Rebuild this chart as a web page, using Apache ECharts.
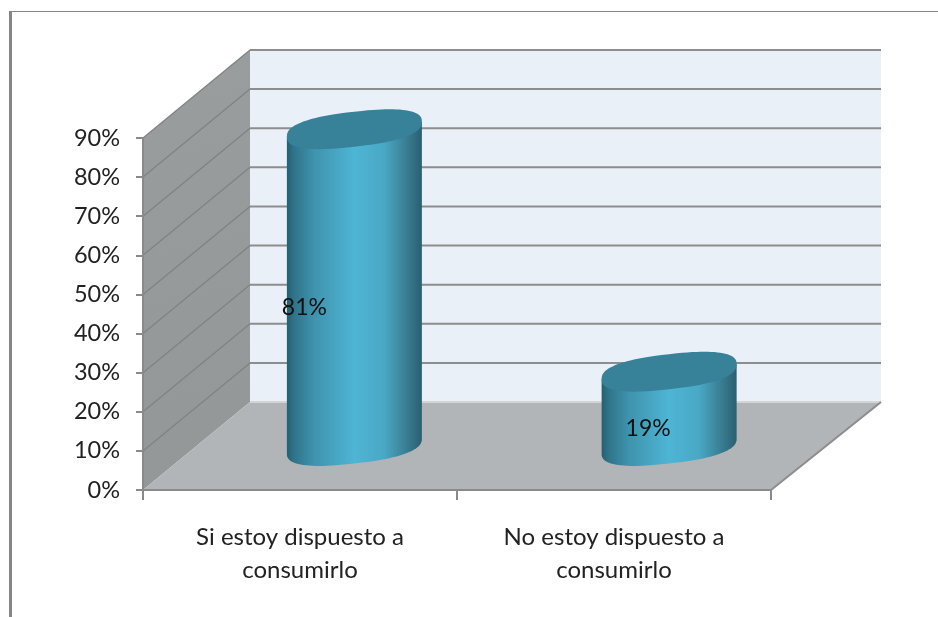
<!DOCTYPE html>
<html><head><meta charset="utf-8">
<style>html,body{margin:0;padding:0;background:#fff}#c{width:938px;height:617px}</style>
<script src="https://cdn.jsdelivr.net/npm/echarts@6/dist/echarts.min.js"></script>
</head><body><div id="c"></div>
<script>
const categories = ['Si estoy dispuesto a\nconsumirlo', 'No estoy dispuesto a\nconsumirlo'];
const values = [81, 19];
const valueLabels = ['81%', '19%'];
const yMin = 0, yMax = 90, yStep = 10;

const DEPTH_X = 107, DEPTH_Y = -88, BACK_EXTRA = 3;
const CYL_A = 67.5, CYL_B = 17.5, CYL_TILT = 7.5, CYL_ROUND = 0.8;
const LABEL_DX = [-50, -21], LABEL_DY = 20;
const FONT = 'Lato, "Noto Sans", sans-serif';
const GRID_C = '#8d8d8d';
const chart = echarts.init(document.getElementById('c'));

function backPt(cs, x, y) {
  return [x + DEPTH_X + BACK_EXTRA * (x - cs.x) / cs.width, y + DEPTH_Y];
}
function renderWalls(params, api) {
  const cs = params.coordSys, L = cs.x, R = cs.x + cs.width;
  const y0 = api.coord([0, yMin])[1], yT = api.coord([0, yMax])[1];
  const bl = backPt(cs, L, y0), br = backPt(cs, R, y0), tl = backPt(cs, L, yT), tr = backPt(cs, R, yT);
  const ch = [
    {type:'polygon', shape:{points:[bl, br, tr, tl]}, style:{fill:'#e9f0f7'}},
    {type:'polygon', shape:{points:[[L,y0],[L,yT],tl,bl]},
      style:{fill:new echarts.graphic.LinearGradient(0,0,1,1,[{offset:0,color:'#999d9e'},{offset:1,color:'#939798'}])}},
    {type:'polygon', shape:{points:[[L,y0],bl,br,[R,y0]]}, style:{fill:'#b2b5b8'}},
    {type:'line', shape:{x1:bl[0],y1:bl[1],x2:br[0],y2:br[1]}, style:{stroke:'#d2d4d6',lineWidth:2}},
    {type:'line', shape:{x1:R,y1:y0,x2:br[0],y2:br[1]}, style:{stroke:'#8d8d8d',lineWidth:2}}
  ];
  for (let v = yMin + yStep; v <= yMax; v += yStep) {
    const y = api.coord([0, v])[1], b = backPt(cs, L, y), e = backPt(cs, R, y);
    ch.push({type:'line', shape:{x1:L,y1:y,x2:b[0],y2:b[1]}, style:{stroke:'#7f8383',lineWidth:1.3}});
    ch.push({type:'line', shape:{x1:b[0],y1:b[1],x2:e[0],y2:e[1]}, style:{stroke:GRID_C,lineWidth:2}});
  }
  return {type:'group', children:ch};
}
function rnd(c) { return Math.sign(c) * Math.pow(Math.abs(c), CYL_ROUND); }
function ell(cx, cy, t) {
  const c = rnd(Math.cos(t)), s = rnd(Math.sin(t));
  return [cx + CYL_A * c, cy - CYL_TILT * c + CYL_B * s];
}
function renderCyl(params, api) {
  const cs = params.coordSys, i = api.value(0), v = api.value(1);
  const front = api.coord([i, 0]), top = api.coord([i, v]);
  const off = backPt(cs, front[0], 0);
  const cx = front[0] + (off[0] - front[0]) / 2 + 0.5;
  const dy = DEPTH_Y / 2;
  const cyB = front[1] + dy, cyT = top[1] + dy;
  const body = [ell(cx, cyT, Math.PI)];
  for (let k = 0; k <= 48; k++) body.push(ell(cx, cyB, Math.PI * (1 - k / 48)));
  body.push(ell(cx, cyT, 0));
  const cap = [];
  for (let k = 0; k < 96; k++) cap.push(ell(cx, cyT, 2 * Math.PI * k / 96));
  const grad = new echarts.graphic.LinearGradient(0,0,1,0,[
    {offset:0,color:'#255f72'},{offset:0.05,color:'#2f7389'},{offset:0.2,color:'#3f93ad'},
    {offset:0.5,color:'#4eb5d5'},{offset:0.72,color:'#49a8c5'},{offset:0.88,color:'#3a7f95'},{offset:1,color:'#2a5f70'}]);
  return {type:'group', children:[
    {type:'polygon', shape:{points:body}, style:{fill:grad}},
    {type:'polygon', shape:{points:cap}, style:{fill:'#378199'}},
    {type:'text', style:{text:valueLabels[i], x:cx + LABEL_DX[i], y:(cyB + cyT) / 2 + LABEL_DY,
      fill:'#111', font:'23px ' + FONT, align:'center', verticalAlign:'middle'}}
  ]};
}
chart.setOption({
  animation:false,
  backgroundColor:'#fff',
  grid:{left:143, right:167, top:138, bottom:127},
  xAxis:{type:'category', data:categories, z:5,
    axisLine:{show:true, lineStyle:{color:'#8a8a8a', width:2}},
    axisTick:{show:true, alignWithLabel:false, length:10, lineStyle:{color:'#8a8a8a', width:2}},
    axisLabel:{color:'#222', fontFamily:FONT, fontSize:24, lineHeight:33, margin:31, interval:0}},
  yAxis:{type:'value', min:yMin, max:yMax, interval:yStep, z:5,
    axisLine:{show:true, lineStyle:{color:'#8a8a8a', width:2}},
    axisTick:{show:true, length:7, lineStyle:{color:'#8a8a8a', width:2}},
    splitLine:{show:false},
    axisLabel:{formatter:'{value}%', color:'#222', fontFamily:FONT, fontSize:23.5, margin:23, padding:[7,0,0,0]}},
  series:[
    {type:'custom', z:1, silent:true, clip:false, data:[[0, 0]], renderItem:renderWalls},
    {type:'custom', z:2, silent:true, clip:false, encode:{x:0,y:1},
      data:values.map((v,i)=>[i,v]), renderItem:renderCyl}
  ],
  graphic:[
    {type:'rect', shape:{x:9,y:11,width:3,height:606}, style:{fill:'#868686'}, silent:true},
    {type:'rect', shape:{x:9,y:11,width:929,height:1}, style:{fill:'#868686'}, silent:true}
  ]
});
</script></body></html>
